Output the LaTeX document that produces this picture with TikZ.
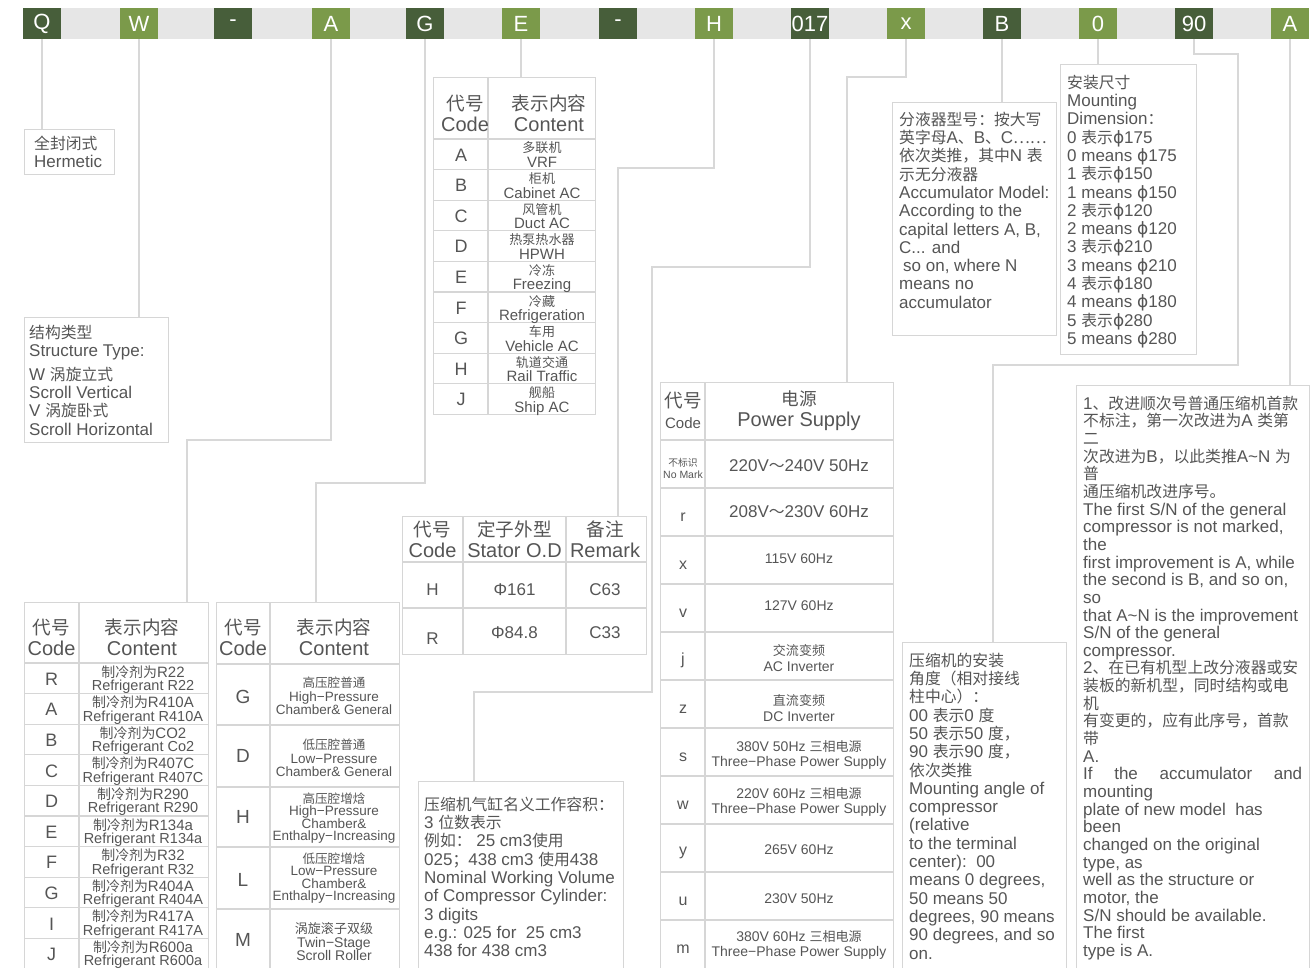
\documentclass[tikz,border=0pt]{standalone}
\usepackage{fontspec}
\setmainfont{Liberation Sans}
\newfontfamily\cjkf{Noto Sans CJK SC}[Scale=0.93]
\newfontfamily\djv{DejaVu Sans}
\newcommand\zh[1]{{\cjkf #1}}
\newcommand\ph{{\djv ϕ}}
\newcommand\fs[2]{\fontsize{#1}{#2}\selectfont}
\newcommand\fl{\rule{0pt}{15pt}}
\definecolor{dgreen}{HTML}{475E3A}
\definecolor{lgreen}{HTML}{7B9A4A}
\definecolor{band}{HTML}{E6E6E6}
\definecolor{linec}{HTML}{D8D8D8}
\definecolor{boxc}{HTML}{D6D6D6}
\definecolor{txt}{HTML}{555555}
\begin{document}
\begin{tikzpicture}[x=1pt,y=-1pt,
  conn/.style={draw=linec,line width=1.3pt},
  frame/.style={draw=boxc,line width=1.2pt,inner sep=0,anchor=north west},
  grid/.style={draw=boxc,line width=1.2pt},
  tb/.style={minimum width=38pt,minimum height=31pt,inner sep=0,text=white,font=\fs{22}{22}},
  para/.style={text=txt,inner sep=0,align=left,anchor=north west,font=\fs{17}{18.3}},
  cell/.style={text=txt,inner sep=0,align=center}]
\useasboundingbox (0,0) rectangle (1316,968);
% ---------- top bar
\node[fill=band,minimum width=1286pt,minimum height=31pt,inner sep=0,anchor=north west] (band) at (23,8) {};
\foreach \x/\t/\c/\n in {42/Q/dgreen/bQ,139/W/lgreen/bW,233/-/dgreen/bDa,331/A/lgreen/bA,425/G/dgreen/bG,521/E/lgreen/bE,618/-/dgreen/bDb,714/H/lgreen/bH,810/017/dgreen/bN,906/x/lgreen/bx,1002/B/dgreen/bB,1098/0/lgreen/bZ,1194/90/dgreen/bNN,1290/A/lgreen/bAA}
  \node[tb,fill=\c] (\n) at (\x,23.5) {\t};

% ---------- text boxes
\node[frame,minimum width=90pt,minimum height=45pt] (herm) at (24,129) {};
\node[para] (hermt) at (34,134) {\fl\zh{全封闭式}\\Hermetic};

\node[frame,minimum width=144pt,minimum height=125pt] (struct) at (24,317) {};
\node[para] (structt) at (29,323) {\fl\zh{结构类型}\\Structure Type:\\[5.5pt]W \zh{涡旋立式}\\Scroll Vertical\\V \zh{涡旋卧式}\\Scroll Horizontal};

\node[frame,minimum width=164pt,minimum height=233pt] (acc) at (892,102) {};
\node[para] (acct) at (899,110) {\fl\zh{分液器型号：按大写}\\\zh{英字母}A\zh{、}B\zh{、}C\zh{……}\\\zh{依次类推，其中}N \zh{表}\\\zh{示无分液器}\\Accumulator Model:\\According to the\\capital letters A, B,\\C... and\\\hspace*{4pt}so on, where N\\means no\\accumulator};

\node[frame,minimum width=136pt,minimum height=290pt] (mount) at (1060,64) {};
\node[para] (mountt) at (1067,73) {\fl\zh{安装尺寸}\\Mounting\\Dimension\zh{：}\\0 \zh{表示}\ph175\\0 means \ph175\\1 \zh{表示}\ph150\\1 means \ph150\\2 \zh{表示}\ph120\\2 means \ph120\\3 \zh{表示}\ph210\\3 means \ph210\\4 \zh{表示}\ph180\\4 means \ph180\\5 \zh{表示}\ph280\\5 means \ph280};

\node[frame,minimum width=205pt,minimum height=195pt] (vol) at (418,781) {};
\node[para] (volt) at (424,795) {\fl\zh{压缩机气缸名义工作容积：}\\3 \zh{位数表示}\\\zh{例如：} 25 cm3\zh{使用}\\025\zh{；}438 cm3 \zh{使用}438\\Nominal Working Volume\\of Compressor Cylinder:\\3 digits\\e.g.: 025 for\ \ 25 cm3\\438 for 438 cm3};

\node[frame,minimum width=164pt,minimum height=335pt] (ang) at (902,642) {};
\node[para] (angt) at (909,651) {\fl\zh{压缩机的安装}\\\zh{角度（相对接线}\\\zh{柱中心）：}\\00 \zh{表示}0 \zh{度}\\50 \zh{表示}50 \zh{度，}\\90 \zh{表示}90 \zh{度，}\\\zh{依次类推}\\Mounting angle of\\compressor\\(relative\\to the terminal\\center):\ \ 00\\means 0 degrees,\\50 means 50\\degrees, 90 means\\90 degrees, and so\\on.};

\node[frame,minimum width=233pt,minimum height=590pt] (last) at (1076,385) {};
\node[para,font=\fs{17}{17.65}] (lastt) at (1083,394) {\fl 1\zh{、改进顺次号普通压缩机首款}\\\zh{不标注，第一次改进为}A \zh{类第}\\\zh{二}\\\zh{次改进为}B\zh{，以此类推}A\textasciitilde N \zh{为}\\\zh{普}\\\zh{通压缩机改进序号。}\\The first S/N of the general\\compressor is not marked,\\the\\first improvement is A, while\\the second is B, and so on,\\so\\that A\textasciitilde N is the improvement\\S/N of the general\\compressor.\\2\zh{、在已有机型上改分液器或安}\\\zh{装板的新机型，同时结构或电}\\\zh{机}\\\zh{有变更的，应有此序号，首款}\\\zh{带}\\A.\\\makebox[219pt][s]{If\hfill the\hfill accumulator\hfill and}\\mounting\\plate of new model\ \ has\\been\\changed on the original\\type, as\\well as the structure or\\motor, the\\S/N should be available.\\The first\\type is A.};

% ---------- application table (E)
\node[frame,minimum width=162pt,minimum height=337pt] (tApp) at (433,77) {};
\draw[grid] (488,77) -- (488,414);
\draw[grid] (433,139) -- (595,139);
\foreach \i in {1,...,8} \draw[grid] (433,{139+\i*30.6}) -- (595,{139+\i*30.6});
\node[cell,font=\fs{20}{21}] (appHa) at (465,113) {\zh{代号}\\Code};
\node[cell,font=\fs{20}{21}] (appHb) at (549,113) {\zh{表示内容}\\Content};
\foreach \c/\z/\e [count=\i from 0] in {A/多联机/VRF,B/柜机/Cabinet AC,C/风管机/Duct AC,D/热泵热水器/HPWH,E/冷冻/Freezing,F/冷藏/Refrigeration,G/车用/Vehicle AC,H/轨道交通/Rail Traffic,J/舰船/Ship AC}{
  \pgfmathsetmacro\yt{139+\i*30.6}
  \node[cell,font=\fs{18}{18}] (appc\i) at (461,\yt+16) {\c};
  \node[cell,anchor=base,font=\fs{14}{14}] (appz\i) at (542,\yt+14) {\zh{\z}};
  \node[cell,anchor=base,font=\fs{15}{15}] (appe\i) at (542,\yt+28.5) {\e};
}

% ---------- refrigerant table (A)
\node[frame,minimum width=184pt,minimum height=370pt] (tRef) at (24,602) {};
\draw[grid] (79,602) -- (79,972);
\draw[grid] (24,663) -- (208,663);
\foreach \i in {1,...,9} \draw[grid] (24,{663+\i*30.6}) -- (208,{663+\i*30.6});
\node[cell,font=\fs{20}{21}] (refHa) at (51.5,637) {\zh{代号}\\Code};
\node[cell,font=\fs{20}{21}] (refHb) at (142,637) {\zh{表示内容}\\Content};
\foreach \c/\z/\e [count=\i from 0] in {R/R22/R22,A/R410A/R410A,B/CO2/Co2,C/R407C/R407C,D/R290/R290,E/R134a/R134a,F/R32/R32,G/R404A/R404A,I/R417A/R417A,J/R600a/R600a}{
  \pgfmathsetmacro\yt{663+\i*30.6}
  \node[cell,font=\fs{18}{18}] (refc\i) at (51.5,\yt+16) {\c};
  \node[cell,anchor=base,font=\fs{15}{15}] (refz\i) at (143,\yt+14) {\zh{制冷剂为}\z};
  \node[cell,anchor=base,font=\fs{14.5}{14.5}] (refe\i) at (143,\yt+27.5) {Refrigerant \e};
}

% ---------- chamber table (G)
\node[frame,minimum width=183pt,minimum height=370pt] (tCh) at (216,602) {};
\draw[grid] (270,602) -- (270,972);
\foreach \yy in {664,725,787,847,909} \draw[grid] (216,\yy) -- (399,\yy);
\node[cell,font=\fs{20}{21}] (chHa) at (243,637) {\zh{代号}\\Code};
\node[cell,font=\fs{20}{21}] (chHb) at (334,637) {\zh{表示内容}\\Content};
\node[cell,font=\fs{19}{19}] (chc1) at (243,697) {G};
\node[cell,font=\fs{19}{19}] (chc2) at (243,756) {D};
\node[cell,font=\fs{19}{19}] (chc3) at (243,817) {H};
\node[cell,font=\fs{19}{19}] (chc4) at (243,880) {L};
\node[cell,font=\fs{19}{19}] (chc5) at (243,940) {M};
\node[cell,font=\fs{13.5}{13.5}] (cht1) at (334,696) {\zh{高压腔普通}\\High−Pressure\\Chamber\& General};
\node[cell,font=\fs{13.5}{13.5}] (cht2) at (334,758) {\zh{低压腔普通}\\Low−Pressure\\Chamber\& General};
\node[cell,font=\fs{13.5}{12.6}] (cht3) at (334,818) {\zh{高压腔增焓}\\High−Pressure\\Chamber\&\\Enthalpy−Increasing};
\node[cell,font=\fs{13.5}{12.6}] (cht4) at (334,878) {\zh{低压腔增焓}\\Low−Pressure\\Chamber\&\\Enthalpy−Increasing};
\node[cell,font=\fs{14}{13.5}] (cht5) at (334,942) {\zh{涡旋滚子双级}\\Twin−Stage\\Scroll Roller};

% ---------- stator table (H)
\node[frame,minimum width=244pt,minimum height=138pt] (tSt) at (402,516) {};
\draw[grid] (463,516) -- (463,654);
\draw[grid] (566,516) -- (566,654);
\draw[grid] (402,562) -- (646,562);
\draw[grid] (402,608) -- (646,608);
\node[cell,font=\fs{20}{21}] (stHa) at (432.5,539) {\zh{代号}\\Code};
\node[cell,font=\fs{20}{21}] (stHb) at (514.5,539) {\zh{定子外型}\\Stator O.D};
\node[cell,font=\fs{20}{21}] (stHc) at (605,539) {\zh{备注}\\Remark};
\node[cell,font=\fs{17}{17}] (st11) at (432.5,590) {H};
\node[cell,font=\fs{17}{17}] (st12) at (514.5,590) {Φ161};
\node[cell,font=\fs{17}{17}] (st13) at (605,590) {C63};
\node[cell,font=\fs{17}{17}] (st21) at (432.5,639) {R};
\node[cell,font=\fs{17}{17}] (st22) at (514.5,633) {Φ84.8};
\node[cell,font=\fs{17}{17}] (st23) at (605,633) {C33};

% ---------- power table (x)
\node[frame,minimum width=233pt,minimum height=590pt] (tPow) at (660,382) {};
\draw[grid] (705,382) -- (705,972);
\foreach \i in {0,...,10} \draw[grid] (660,{440+\i*48}) -- (893,{440+\i*48});
\node[cell,font=\fs{20}{20}] (pwHa) at (683,401) {\zh{代号}};
\node[cell,font=\fs{15}{15}] (pwHb) at (683,423) {Code};
\node[cell,font=\fs{19}{19}] (pwHc) at (799,399) {\zh{电源}};
\node[cell,font=\fs{20}{20}] (pwHd) at (799,421) {Power Supply};
\node[cell,font=\fs{10.5}{12}] (pw0a) at (683,468) {\zh{不标识}\\No Mark};
\node[cell,font=\fs{17}{17}] (pw0b) at (799,466) {220V\zh{～}240V 50Hz};
\node[cell,font=\fs{16}{16}] (pw1a) at (683,517) {r};
\node[cell,font=\fs{17}{17}] (pw1b) at (799,512) {208V\zh{～}230V 60Hz};
\node[cell,font=\fs{16}{16}] (pw2a) at (683,565) {x};
\node[cell,font=\fs{14}{14}] (pw2b) at (799,559) {115V 60Hz};
\node[cell,font=\fs{16}{16}] (pw3a) at (683,613) {v};
\node[cell,font=\fs{14}{14}] (pw3b) at (799,606) {127V 60Hz};
\node[cell,font=\fs{16}{16}] (pw4a) at (683,660) {j};
\node[cell,font=\fs{14}{15.5}] (pw4b) at (799,658) {\zh{交流变频}\\AC Inverter};
\node[cell,font=\fs{16}{16}] (pw5a) at (683,709) {z};
\node[cell,font=\fs{14}{15.5}] (pw5b) at (799,708) {\zh{直流变频}\\DC Inverter};
\node[cell,font=\fs{16}{16}] (pw6a) at (683,757) {s};
\node[cell,font=\fs{14}{15.5}] (pw6b) at (799,755) {380V 50Hz \zh{三相电源}\\Three−Phase Power Supply};
\node[cell,font=\fs{16}{16}] (pw7a) at (683,805) {w};
\node[cell,font=\fs{14}{15.5}] (pw7b) at (799,802) {220V 60Hz \zh{三相电源}\\Three−Phase Power Supply};
\node[cell,font=\fs{16}{16}] (pw8a) at (683,853) {y};
\node[cell,font=\fs{14}{14}] (pw8b) at (799,850) {265V 60Hz};
\node[cell,font=\fs{16}{16}] (pw9a) at (683,901) {u};
\node[cell,font=\fs{14}{14}] (pw9b) at (799,899) {230V 50Hz};
\node[cell,font=\fs{16}{16}] (pw10a) at (683,949) {m};
\node[cell,font=\fs{14}{15.5}] (pw10b) at (799,945) {380V 60Hz \zh{三相电源}\\Three−Phase Power Supply};

% ---------- connectors
\coordinate (kA) at (187,440);
\coordinate (kG) at (316,483);
\coordinate (kH) at (618,168);
\coordinate (kNa) at (652,267);
\coordinate (kNb) at (474,692);
\coordinate (kx) at (847,77);
\coordinate (kNNa) at (1238,54);
\coordinate (kNNb) at (993,365);
\draw[conn] (bQ.south) -- (bQ.south |- herm.north);
\draw[conn] (bW.south) -- (bW.south |- struct.north);
\draw[conn] (bA.south) |- (kA) -- (kA |- tRef.north);
\draw[conn] (bG.south) |- (kG) -- (kG |- tCh.north);
\draw[conn] (bE.south) -- (bE.south |- tApp.north);
\draw[conn] (bH.south) |- (kH) -- (kH |- tSt.north);
\draw[conn] (bN.south) |- (kNa) |- (kNb) -- (kNb |- vol.north);
\draw[conn] (bx.south) |- (kx) -- (kx |- tPow.north);
\draw[conn] (bB.south) -- (bB.south |- acc.north);
\draw[conn] (bZ.south) -- (bZ.south |- mount.north);
\draw[conn] (bNN.south) |- (kNNa) |- (kNNb) -- (kNNb |- ang.north);
\draw[conn] (bAA.south) -- (bAA.south |- last.north);
\end{tikzpicture}
\end{document}
